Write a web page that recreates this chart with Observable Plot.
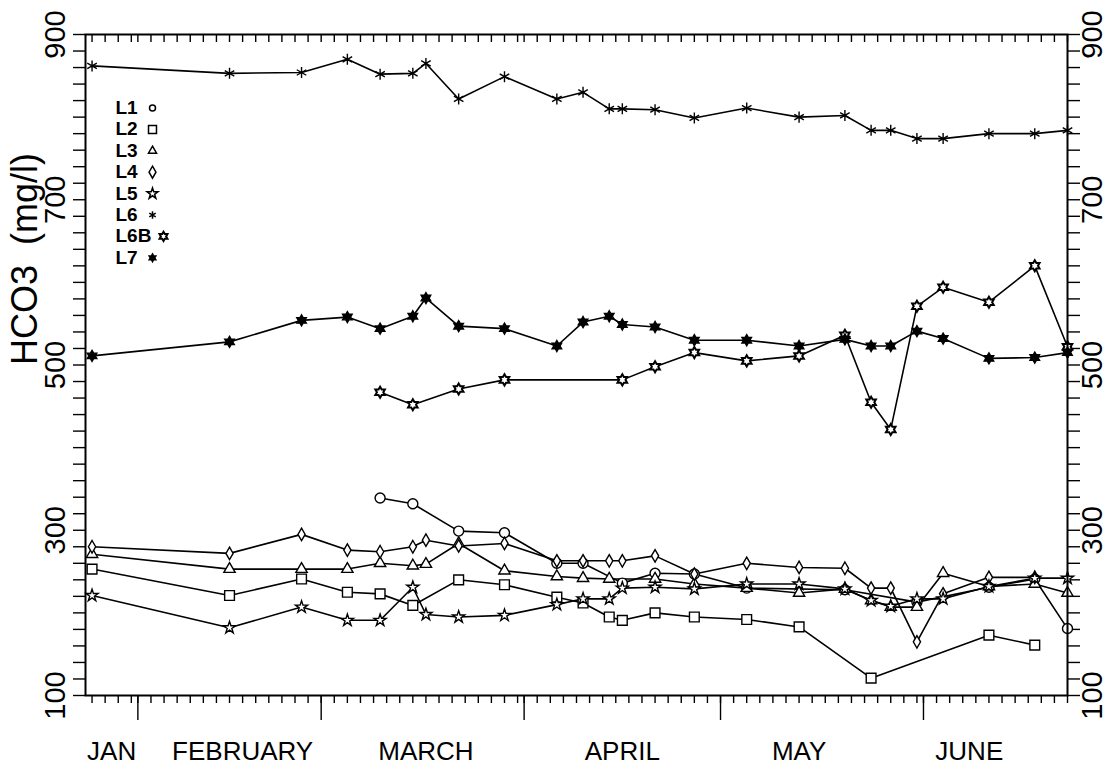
<!DOCTYPE html>
<html>
<head>
<meta charset="utf-8">
<script src="https://cdn.jsdelivr.net/npm/d3@7"></script>
<script src="https://cdn.jsdelivr.net/npm/@observablehq/plot@0.6"></script>
<style>
  html, body { margin: 0; padding: 0; background: #fff; }
  #chart { width: 1108px; height: 765px; }
</style>
</head>
<body>
<div id="chart"></div>
<script>
// ---- data ----
const sampleDates = ["1986-01-25","1986-02-15","1986-02-26","1986-03-05","1986-03-10","1986-03-15","1986-03-17","1986-03-22","1986-03-29","1986-04-06","1986-04-10","1986-04-14","1986-04-16","1986-04-21","1986-04-27","1986-05-05","1986-05-13","1986-05-20","1986-05-24","1986-05-27","1986-05-31","1986-06-04","1986-06-11","1986-06-18","1986-06-23"];

const L1  = [null,null,null,null,339,332,null,299,297,260,260,null,236,248,247,230,null,228,null,null,213,null,231,241,181];
const L2  = [253,221,241,225,223,209,null,240,234,219,212,195,191,200,195,192,183,null,121,null,null,null,173,161,null];
const L3  = [271,253,253,253,260,257,259,284,251,244,242,241,null,241,235,230,224,229,215,207,207,248,232,235,224];
const L4  = [280,272,295,276,274,280,288,281,284,263,263,263,263,269,247,260,255,254,230,230,165,223,243,243,null];
const L5  = [221,182,207,191,191,231,198,195,197,210,217,217,230,231,229,235,235,229,215,208,217,217,232,242,242];
const L6  = [862,853,854,870,852,853,865,822,849,822,830,810,810,809,799,811,800,802,784,784,774,774,780,780,784];
const L6B = [null,null,null,null,467,452,null,471,482,null,null,null,482,498,515,505,511,536,455,422,571,594,576,620,522];
const L7  = [511,528,554,558,544,559,581,547,544,523,552,559,549,546,530,530,523,531,523,523,541,532,508,509,515];

const seriesNames = ["L1","L2","L3","L4","L5","L6","L6B","L7"];
const seriesValues = [L1, L2, L3, L4, L5, L6, L6B, L7];

const yTickLabels = [100, 300, 500, 700, 900];
const monthNames = ["JAN","FEBRUARY","MARCH","APRIL","MAY","JUNE"];
const monthLabelDates = ["1986-01-28","1986-02-17","1986-03-17","1986-04-16","1986-05-13","1986-06-08"];
const monthStarts = ["1986-02-01","1986-03-01","1986-04-01","1986-05-01","1986-06-01"];

// ---- custom marker shapes ----
const tallDiamond = {
  draw(ctx, size) {
    const r = Math.sqrt(size / Math.PI);
    ctx.moveTo(0, -r * 1.25);
    ctx.lineTo(r * 0.72, 0);
    ctx.lineTo(0, r * 1.25);
    ctx.lineTo(-r * 0.72, 0);
    ctx.closePath();
  }
};
const hexagram = {
  draw(ctx, size) {
    const R = Math.sqrt(size / Math.PI) * 1.2;
    const ri = R / Math.sqrt(3);
    for (let k = 0; k < 12; k++) {
      const a = -Math.PI / 2 + k * Math.PI / 6;
      const rr = k % 2 ? ri : R;
      const px = rr * Math.cos(a), py = rr * Math.sin(a);
      if (k === 0) ctx.moveTo(px, py); else ctx.lineTo(px, py);
    }
    ctx.closePath();
  }
};

const styles = {
  L1:  {symbol: "circle",   r: 5,   fill: "white", lr: 3},
  L2:  {symbol: "square",   r: 5.5, fill: "white", lr: 4.5},
  L3:  {symbol: "triangle", r: 4.2, fill: "white", lr: 3},
  L4:  {symbol: tallDiamond, r: 5,  fill: "white", lr: 4.8},
  L5:  {symbol: "star",     r: 3.8, fill: "white", lr: 3.4},
  L6:  {symbol: "asterisk", r: 5.2, fill: "none",  lr: 3.5},
  L6B: {symbol: hexagram,   r: 4.6, fill: "white", lr: 3.8, sw: 2},
  L7:  {symbol: hexagram,   r: 4.6, fill: "black", lr: 3.2}
};

const parse = (s) => new Date(s);
const rows = seriesNames.flatMap((name, si) =>
  sampleDates.map((d, i) => ({series: name, date: parse(d), value: seriesValues[si][i]}))
    .filter((r) => r.value != null)
);

const x0 = new Date(Date.UTC(1986, 0, 24));
const x1 = new Date(Date.UTC(1986, 5, 23));
const minorTicks = d3.utcDay.every(2).range(x0, new Date(Date.UTC(1986, 5, 24)));
const yMinor = d3.range(100, 901, 20);

const font = "'Liberation Sans', Arial, Helvetica, sans-serif";

const marks = [];
// axes ticks
marks.push(Plot.axisY(yMinor, {anchor: "left", tickSize: 12, tickFormat: () => "", strokeWidth: 1.4, label: null}));
marks.push(Plot.axisY(yMinor, {anchor: "right", tickSize: 12, tickFormat: () => "", strokeWidth: 1.4, label: null}));
marks.push(Plot.axisX(minorTicks, {anchor: "bottom", tickSize: 8, tickFormat: () => "", strokeWidth: 1.4, label: null}));
marks.push(Plot.axisX(monthStarts.map(parse), {anchor: "bottom", tickSize: 25, tickFormat: () => "", strokeWidth: 1.4, label: null}));
marks.push(Plot.axisX(minorTicks, {anchor: "top", tickSize: 7, dy: 7, tickFormat: () => "", strokeWidth: 1.4, label: null}));

// tick labels
marks.push(Plot.text(yTickLabels, {y: (d) => d, text: (d) => String(d), frameAnchor: "left", dx: -30, rotate: -90, fontSize: 29, lineAnchor: "middle", textAnchor: "middle"}));
marks.push(Plot.text(yTickLabels, {y: (d) => d, text: (d) => String(d), frameAnchor: "right", dx: 25, rotate: -90, fontSize: 29, lineAnchor: "middle", textAnchor: "middle"}));
marks.push(Plot.text(monthNames, {x: (d, i) => parse(monthLabelDates[i]), text: (d) => d, frameAnchor: "bottom", dy: 56, lineAnchor: "middle", fontSize: 26}));
marks.push(Plot.text(["HCO3 \u00a0(mg/l)"], {frameAnchor: "left", dx: -60, rotate: -90, fontSize: 36, lineAnchor: "middle"}));

// lines
for (const name of seriesNames) {
  marks.push(Plot.line(rows.filter((r) => r.series === name), {x: "date", y: "value", stroke: "black", strokeWidth: 1.6}));
}
// markers
for (const name of seriesNames) {
  const s = styles[name];
  marks.push(Plot.dot(rows.filter((r) => r.series === name), {x: "date", y: "value", symbol: s.symbol, r: s.r, fill: s.fill, stroke: "black", strokeWidth: s.sw || 1.4}));
}

// legend
seriesNames.forEach((name, i) => {
  const s = styles[name];
  const dy = 73.5 + i * 21.4;
  marks.push(Plot.text([name], {frameAnchor: "top-left", dx: 30, dy, textAnchor: "start", lineAnchor: "middle", fontWeight: "bold", fontSize: 19, text: (d) => d}));
  marks.push(Plot.dot([name], {frameAnchor: "top-left", dx: name === "L6B" ? 78 : 67, dy, symbol: s.symbol, r: s.lr, fill: s.fill, stroke: "black", strokeWidth: name === "L6B" ? 2 : 1.5}));
});

marks.push(Plot.frame({stroke: "black", strokeWidth: 2}));

const chart = Plot.plot({
  width: 1108,
  height: 765,
  marginLeft: 85,
  marginRight: 41,
  marginTop: 34,
  marginBottom: 70,
  style: {fontFamily: font, background: "white", color: "black"},
  x: {type: "utc", domain: [x0, x1], axis: null},
  y: {domain: [100, 900], axis: null},
  marks
});
document.getElementById("chart").appendChild(chart);
</script>
</body>
</html>
